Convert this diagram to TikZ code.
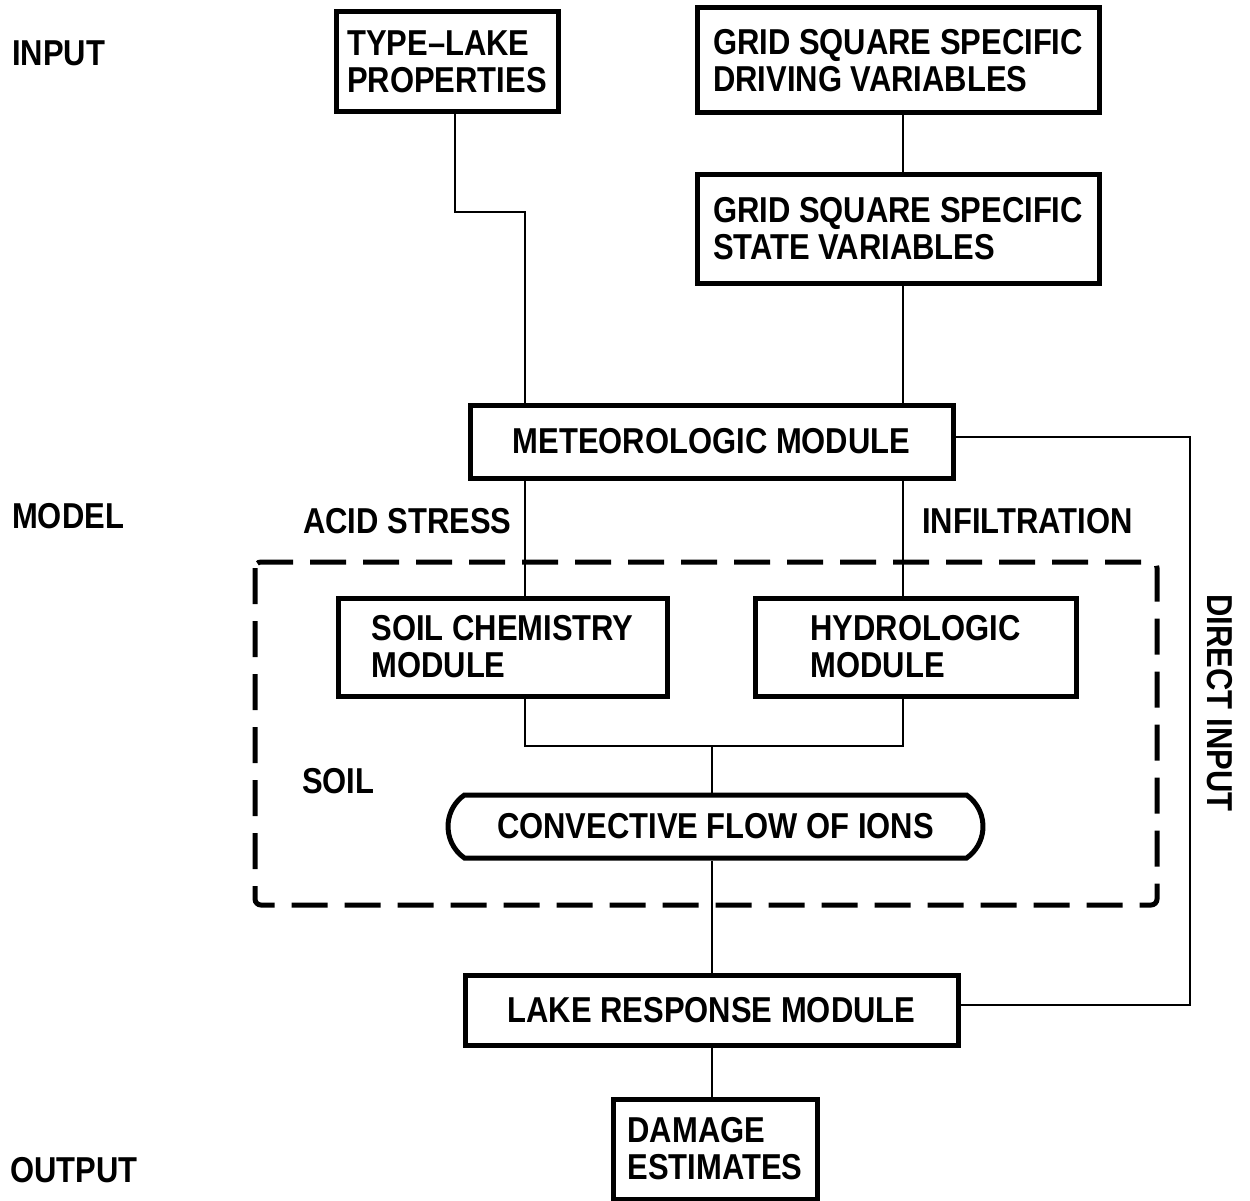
\documentclass[tikz,border=0pt]{standalone}
\usepackage{fontspec}
\setmainfont{Liberation Sans}[FakeStretch=0.86]
\usetikzlibrary{shapes.misc}
\begin{document}
\begin{tikzpicture}[x=1pt,y=-1pt,
  lbl/.style={font=\fontsize{36}{37}\selectfont\bfseries, inner sep=0pt},
  box/.style={lbl, draw, line width=5pt, align=left},
  tag/.style={lbl, anchor=west},
  wire/.style={line width=2.5pt},
  zone/.style={draw, line width=5pt, dash pattern=on 36pt off 17pt, rounded corners=6pt}
]
\useasboundingbox (0,0) rectangle (1250,1201);

% side labels
\node[tag] (lin)  at (12,53)   {INPUT};
\node[tag] (lmod) at (12,516)  {MODEL};
\node[tag] (lout) at (10,1170) {OUTPUT};

% soil region
\draw[zone] (255,562) rectangle (1157,905);
\node[tag] (lsoil) at (302,781) {SOIL};

% input boxes
\node[box, minimum width=222pt, minimum height=100pt] (tl) at (447,62)
  {TYPE--LAKE\\PROPERTIES};
\node[box, minimum width=402pt, minimum height=105pt] (gd) at (898,60.5)
  {GRID SQUARE SPECIFIC\\DRIVING VARIABLES};
\node[box, minimum width=402pt, minimum height=108pt] (gs) at (898,229)
  {GRID SQUARE SPECIFIC\\STATE VARIABLES};

% model boxes
\node[box, minimum width=483pt, minimum height=73pt] (met) at (711.5,441.5)
  {METEOROLOGIC MODULE};
\node[box, minimum width=329pt, minimum height=98pt] (sc) at (502.5,647)
  {SOIL CHEMISTRY\\MODULE};
\node[box, minimum width=321pt, minimum height=98pt] (hy) at (915.5,647)
  {HYDROLOGIC\\MODULE};
\node[box, rounded rectangle, rounded rectangle arc length=110,
      minimum width=535pt, minimum height=63pt] (cf) at (715.5,826.5)
  {CONVECTIVE FLOW OF IONS};
\node[box, minimum width=493pt, minimum height=70pt] (lr) at (711.5,1010)
  {LAKE RESPONSE MODULE};

% output box
\node[box, minimum width=204pt, minimum height=100pt] (de) at (715,1149)
  {DAMAGE\\ESTIMATES};

% flow labels
\node[tag] (lacid) at (303,521) {ACID STRESS};
\node[tag] (linf)  at (922,521) {INFILTRATION};
\node[lbl, rotate=-90] (ldir) at (1220,703) {DIRECT INPUT};

% connector routing points
\coordinate (tltop)  at (455,212);
\coordinate (tlbend) at (525,212);
\coordinate (lcol)   at (525,0);
\coordinate (rcol)   at (903,0);
\coordinate (dirtop) at (1190,437);
\coordinate (dirbot) at (1190,1005);
\coordinate (join)   at (712,746);

% connectors
\draw[wire] (tl.south -| tltop) -- (tltop) -- (tlbend) -- (tlbend |- met.north);
\draw[wire] (gd.south -| rcol) -- (gs.north -| rcol);
\draw[wire] (gs.south -| rcol) -- (met.north -| rcol);
\draw[wire] (met.east |- dirtop) -- (dirtop) -- (dirbot) -- (lr.east |- dirbot);
\draw[wire] (met.south -| lcol) -- (sc.north -| lcol);
\draw[wire] (met.south -| rcol) -- (hy.north -| rcol);
\draw[wire] (sc.south -| lcol) |- (join) -| (hy.south -| rcol);
\draw[wire] (join) -- (join |- cf.north);
\draw[wire] (join |- cf.south) -- (join |- lr.north);
\draw[wire] (join |- lr.south) -- (join |- de.north);
\end{tikzpicture}
\end{document}
